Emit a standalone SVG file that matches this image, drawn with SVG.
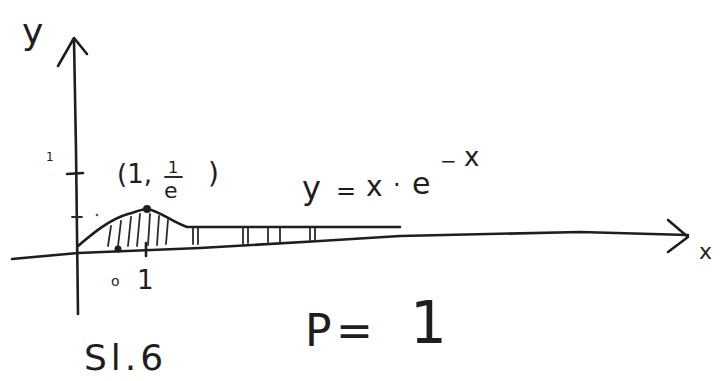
<svg xmlns="http://www.w3.org/2000/svg" width="720" height="381" viewBox="0 0 720 381">
<style>
.ln{fill:none;stroke:#1e1e1e;stroke-width:2.6;stroke-linecap:round;stroke-linejoin:round}
.th{fill:none;stroke:#2a2a2a;stroke-width:1.8;stroke-linecap:round}
text{font-family:"DejaVu Sans","Liberation Sans",sans-serif;fill:#1e1e1e}
</style>
<rect width="720" height="381" fill="#ffffff"/>
<g id="axes">
<path class="ln" d="M74,40 L76,150 L78,314"/>
<polyline class="ln" points="58,66 74,38 87,54"/>
<path class="ln" d="M12,259 L78,253 L200,248 L320,241 L400,236 L580,232 L688,235"/>
<polyline class="ln" points="668,220 688,237 668,252"/>
<line class="ln" x1="67" y1="174" x2="83" y2="173"/>
<line class="th" x1="72" y1="217" x2="82" y2="217"/>
<line class="ln" x1="146" y1="243" x2="146" y2="256"/>
</g>
<g id="curve">
<path class="ln" d="M78,246 C92,234 110,219 128,214 C138,211 143,209 147,209 C158,210 172,222 187,227 L400,227"/>
<circle cx="147" cy="209" r="4" fill="#1e1e1e"/>
<circle cx="118" cy="249" r="3.5" fill="#1e1e1e"/>
<circle cx="97" cy="215" r="1.3" fill="#555"/>
</g>
<g id="shading">
<path class="th" d="M111,226 L108,246 M121,221 L118,246 M131,217 L128,246 M140,214 L137,246 M150,214 L148,245 M159,216 L157,245 M168,220 L166,244"/>
<path class="th" d="M193,228 L193,244 M198,228 L198,244 M243,228 L243,244 M248,228 L248,243 M268,228 L268,242 M280,228 L280,242 M310,228 L310,240 M315,228 L315,240"/>
</g>
<g id="labels">
<text x="22" y="44" font-size="36">y</text>
<text x="46" y="161" font-size="12">1</text>
<text x="117" y="183" font-size="26">(1,</text>
<text x="168" y="173" font-size="16">1</text>
<line class="th" x1="165" y1="177" x2="182" y2="177"/>
<text x="164" y="198" font-size="22">e</text>
<text x="208" y="183" font-size="28">)</text>
<text x="302" y="199" font-size="32">y</text>
<text x="336" y="199" font-size="24">=</text>
<text x="366" y="196" font-size="28">x</text>
<text x="393" y="193" font-size="24">·</text>
<text x="412" y="194" font-size="30">e</text>
<text x="440" y="168" font-size="20">−</text>
<text x="464" y="166" font-size="26">x</text>
<text x="111" y="286" font-size="14">o</text>
<text x="137" y="289" font-size="26">1</text>
<text x="699" y="259" font-size="22">x</text>
<text x="305" y="346" font-size="44">P</text>
<text x="336" y="346" font-size="44">=</text>
<text x="410" y="343" font-size="58">1</text>
<text x="84" y="370" font-size="36" letter-spacing="4">Sl.6</text>
</g>
</svg>
